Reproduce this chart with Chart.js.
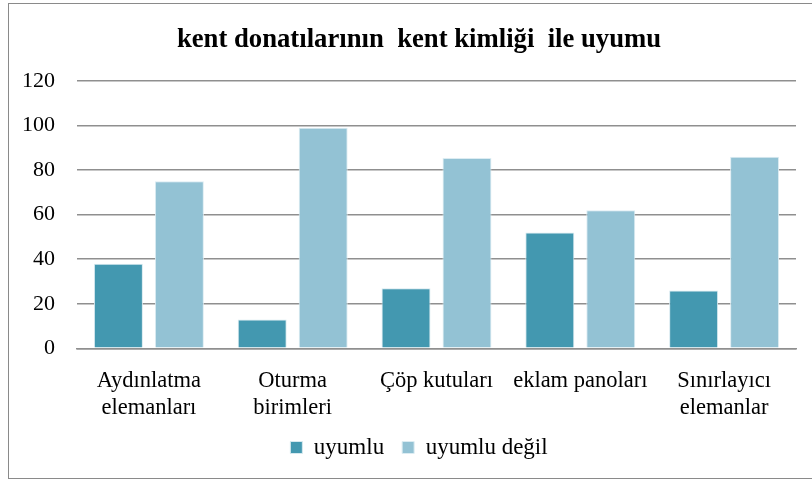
<!DOCTYPE html>
<html>
<head>
<meta charset="utf-8">
<script src="https://cdn.jsdelivr.net/npm/chart.js@4/dist/chart.umd.min.js"></script>
<style>
  html, body { margin: 0; padding: 0; background: #fff; }
  #wrap { position: relative; width: 812px; height: 480px; overflow: hidden; }
  #frame { position: absolute; left: 8px; top: 3px; width: 830px; height: 476px; border: 1px solid #8a8a8a; box-sizing: border-box; }
  canvas { position: absolute; left: 0; top: 0; }
</style>
</head>
<body>
<div id="wrap">
  <div id="frame"></div>
  <canvas id="chart" width="812" height="480"></canvas>
</div>
<script>
const categories = [
    ["Aydınlatma", "elemanları"],
    ["Oturma", "birimleri"],
    "Çöp kutuları",
    "eklam panoları",
    ["Sınırlayıcı", "elemanlar"]
];
const uyumlu = [38, 13, 27, 52, 26];
const uyumluDegil = [75, 99, 85.5, 62, 86];
const yTicks = [0, 20, 40, 60, 80, 100, 120];

const serif = "'Liberation Serif', 'Times New Roman', serif";

// the frame runs past the right edge, so title and legend sit a bit right of the canvas centre
const shiftCentre = {
    id: "shiftCentre",
    afterLayout(chart) {
        chart.titleBlock.left += 42;
        chart.legend.left += 42;
    }
};

const ctx = document.getElementById("chart").getContext("2d");
new Chart(ctx, {
    type: "bar",
    data: {
        labels: categories,
        datasets: [
            {
                label: "uyumlu",
                data: uyumlu,
                backgroundColor: "#4398b0",
                borderColor: "#d6e9ef",
                borderWidth: 1
            },
            {
                label: "uyumlu değil",
                data: uyumluDegil,
                backgroundColor: "#93c2d4",
                borderColor: "#dcecf2",
                borderWidth: 1
            }
        ]
    },
    options: {
        responsive: false,
        animation: false,
        layout: { padding: { left: 0, right: 16, top: 14, bottom: 11 } },
        datasets: {
            bar: { categoryPercentage: 0.848, barPercentage: 0.803 }
        },
        plugins: {
            title: {
                display: true,
                text: "kent donatılarının  kent kimliği  ile uyumu",
                color: "#000",
                font: { family: serif, size: 26.7, weight: "bold" },
                padding: { top: 10, bottom: 25 }
            },
            legend: {
                position: "bottom",
                labels: {
                    color: "#000",
                    font: { family: serif, size: 23 },
                    boxWidth: 12,
                    boxHeight: 12,
                    padding: 18
                }
            },
            tooltip: { enabled: false }
        },
        scales: {
            x: {
                afterFit: scale => { scale.height -= 23; },
                grid: { display: false, drawTicks: false },
                border: { display: true, color: "#8f8f8f", width: 1.5 },
                ticks: {
                    color: "#000",
                    font: { family: serif, size: 22.5, lineHeight: 1.17 },
                    padding: 20,
                    maxRotation: 0,
                    autoSkip: false
                }
            },
            y: {
                min: 0,
                max: 120,
                afterBuildTicks: axis => { axis.ticks = yTicks.map(v => ({ value: v })); },
                grid: { color: "#8f8f8f", lineWidth: 1.5, drawTicks: false },
                border: { display: false },
                ticks: {
                    color: "#000",
                    font: { family: serif, size: 22 },
                    padding: 22
                }
            }
        }
    },
    plugins: [shiftCentre]
});
</script>
</body>
</html>
